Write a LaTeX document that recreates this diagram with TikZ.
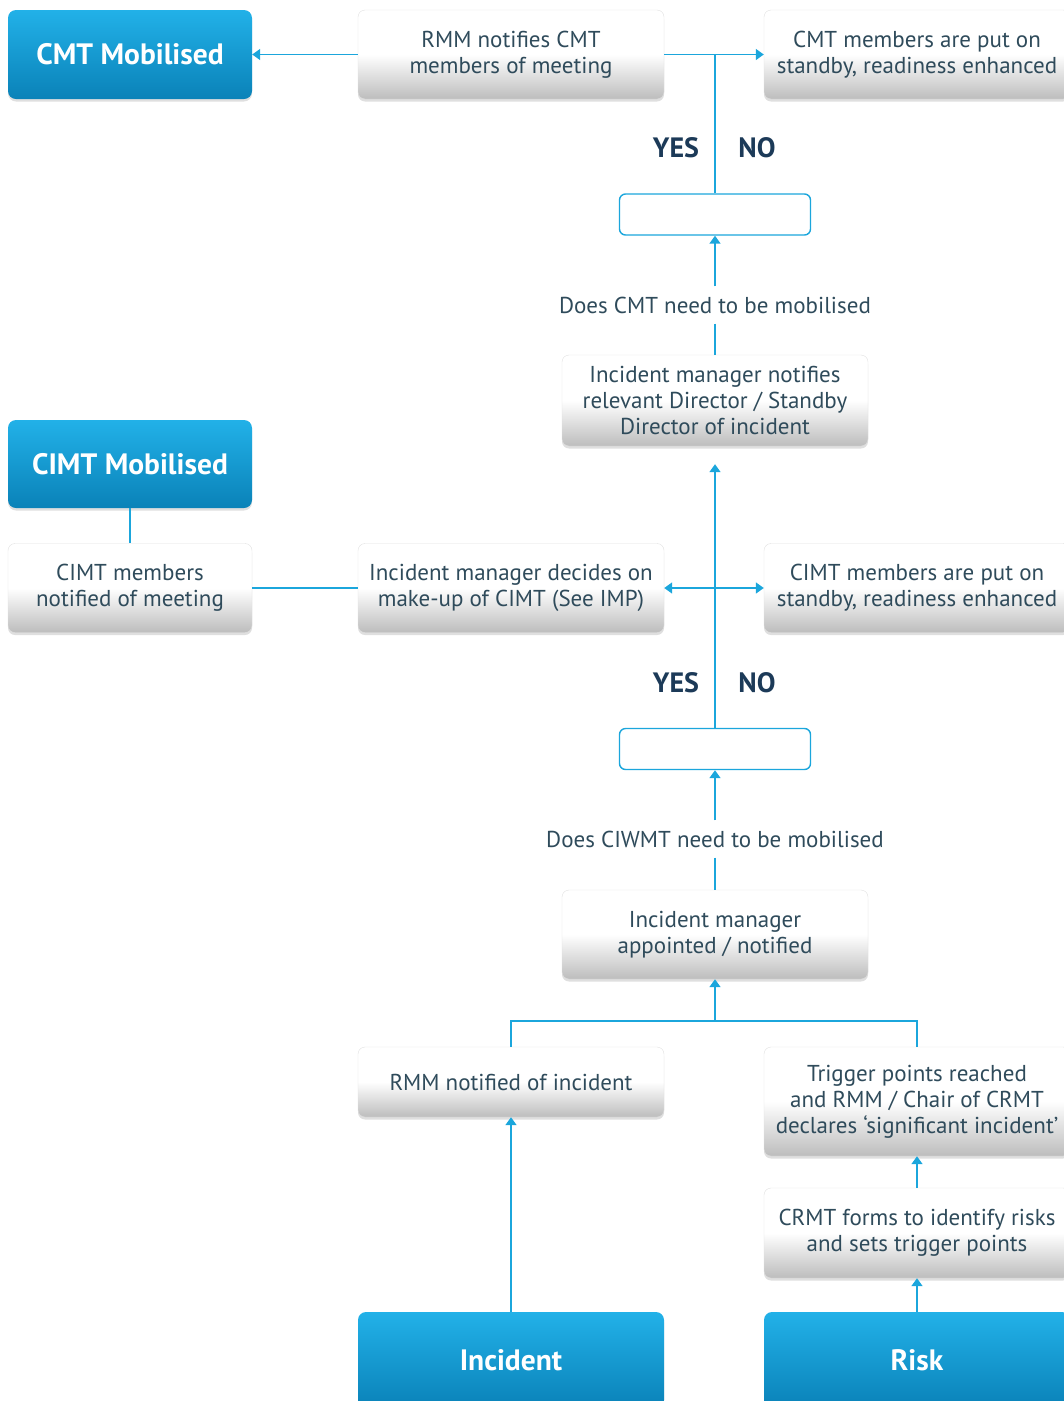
\documentclass[tikz,border=0pt]{standalone}
\usepackage{fontspec}
\setmainfont{PT Sans}
\usetikzlibrary{arrows.meta,shadows}
\definecolor{lineblue}{HTML}{1BA6DC}
\definecolor{bluetop}{HTML}{22B1E8}
\definecolor{bluebot}{HTML}{0A82B8}
\definecolor{textc}{HTML}{2F4B5B}
\definecolor{ync}{HTML}{1C3A58}
\begin{document}
\begin{tikzpicture}[x=1pt,y=-1pt,
  gbox/.style={rectangle, rounded corners=7pt, draw=black!12,
    top color=white, bottom color=black!26, middle color=white,
    minimum width=306pt, minimum height=89pt, align=center, text=textc,
    font=\fontsize{23}{26}\selectfont,
    drop shadow={opacity=0.25, shadow xshift=0pt, shadow yshift=-2.5pt}},
  bbox/.style={rectangle, rounded corners=8pt,
    top color=bluetop, bottom color=bluebot,
    minimum width=244pt, minimum height=89pt, text=white,
    font=\bfseries\fontsize{29.5}{32}\selectfont,
    drop shadow={opacity=0.25, shadow xshift=0pt, shadow yshift=-2.5pt}},
  dbox/.style={rectangle, rounded corners=6pt, draw=lineblue, line width=1.4pt,
    fill=white, minimum width=191pt, minimum height=41pt},
  conn/.style={draw=lineblue, line width=1.6pt},
  tip/.style={},
  arr/.style={conn, -{Triangle[width=11pt,length=8pt]}},
  qtext/.style={text=textc, font=\fontsize{23}{26}\selectfont, inner ysep=10pt},
  yn/.style={text=ync, font=\bfseries\fontsize{28}{30}\selectfont}]
\useasboundingbox (0,0) rectangle (1064,1401);
\clip (0,0) rectangle (1064,1401);

% top row
\node[bbox] (cmt) at (130,54.5) {CMT Mobilised};
\node[gbox] (rmm) at (511,54.5) {RMM notifies CMT\\members of meeting};
\node[gbox] (sb1) at (917,54.5) {CMT members are put on\\standby, readiness enhanced};
\node[yn] (yes1) at (676,148) {YES};
\node[yn] (no1) at (757,148) {NO};
\node[dbox] (d1) at (715,214.5) {};
\node[qtext] (q1) at (715,305) {Does CMT need to be mobilised};
\node[gbox, minimum height=91pt] (dir) at (715,400.5) {Incident manager notifies\\relevant Director / Standby\\Director of incident};

% middle row
\node[bbox, minimum height=88pt] (cimt) at (130,464) {CIMT Mobilised};
\node[gbox, minimum width=244pt] (cimtm) at (130,588) {CIMT members\\notified of meeting};
\node[gbox] (dec) at (511,588) {Incident manager decides on\\make-up of CIMT (See IMP)};
\node[gbox] (sb2) at (917,588) {CIMT members are put on\\standby, readiness enhanced};
\node[yn] (yes2) at (676,683) {YES};
\node[yn] (no2) at (757,683) {NO};
\node[dbox] (d2) at (715,749) {};
\node[qtext] (q2) at (715,839) {Does CIWMT need to be mobilised};
\node[gbox] (appt) at (715,934.5) {Incident manager\\appointed / notified};

% bottom rows
\node[gbox, minimum height=70pt] (rmmn) at (511,1082) {RMM notified of incident};
\node[gbox, minimum height=109pt] (trig) at (917,1101.5) {Trigger points reached\\and RMM / Chair of CRMT\\declares `significant incident'};
\node[gbox, minimum height=90pt] (crmt) at (917,1233) {CRMT forms to identify risks\\and sets trigger points};
\node[bbox, minimum width=306pt, minimum height=96pt] (inc) at (511,1360) {Incident};
\node[bbox, minimum width=306pt, minimum height=96pt] (risk) at (917,1360) {Risk};

% connectors top
\draw[arr] (rmm.west) -- (cmt.east);
\draw[arr] (rmm.east) -- (sb1.west);
\draw[conn] (d1.north) -- (d1.north |- rmm.east);
\draw[arr] (q1.north) -- (d1.south);
\draw[conn] (q1.south) -- (dir.north);

% connectors middle
\draw[conn] (cimt.south) -- (cimtm.north);
\draw[conn] (cimtm.east) -- (dec.west);
\draw[conn, {Triangle[width=11pt,length=8pt]}-{Triangle[width=11pt,length=8pt]}] (dec.east) -- (sb2.west);
\draw[arr, shorten >=18pt] (d2.north) -- (dir.south);
\draw[arr] (q2.north) -- (d2.south);
\draw[conn] (q2.south) -- (appt.north);

% connectors bottom
\coordinate (j) at (715,1021);
\draw[arr] (j) -- (appt.south);
\draw[conn] (rmmn.north) |- (j) -| (trig.north);
\draw[arr] (inc.north) -- (rmmn.south);
\draw[arr] (crmt.north) -- (trig.south);
\draw[arr] (risk.north) -- (crmt.south);
\end{tikzpicture}
\end{document}
